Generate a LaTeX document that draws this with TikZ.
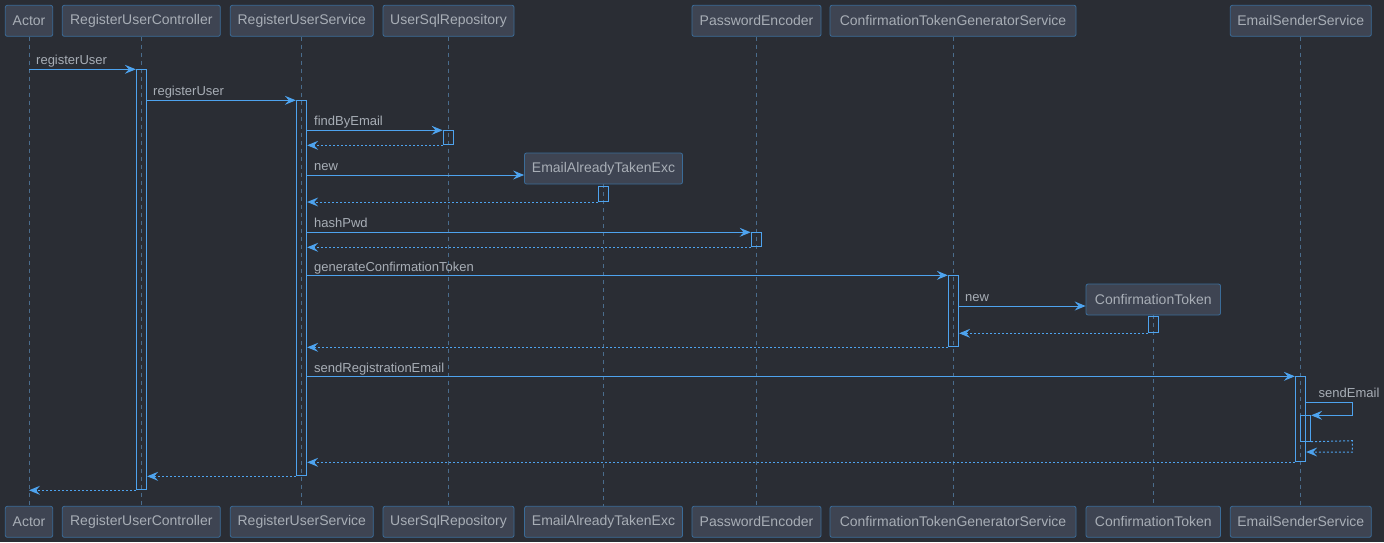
\documentclass[tikz,border=0pt]{standalone}
\usepackage{fontspec}
\setmainfont{Liberation Sans}
\usetikzlibrary{arrows.meta}
\definecolor{bg}{HTML}{2A2D34}
\definecolor{partfill}{HTML}{3E4452}
\definecolor{partline}{HTML}{3B6C98}
\definecolor{txt}{HTML}{A8AEB6}
\definecolor{flow}{HTML}{4EA3EE}
\definecolor{life}{HTML}{4A6C8C}
\begin{document}
\begin{tikzpicture}[x=1pt,y=-1pt,
  part/.style={draw=partline, fill=partfill, rounded corners=2pt, text=txt,
    font=\fontsize{14}{16}\selectfont, minimum height=31pt, inner sep=0pt, line width=0.8pt},
  lifeline/.style={draw=life, line width=0.8pt, dash pattern=on 4pt off 4pt},
  act/.style={draw=flow, line width=1pt, minimum width=10.3pt, inner sep=0pt, anchor=north},
  msg/.style={draw=flow, line width=1pt, -{Stealth[length=11pt,width=9pt,inset=4pt]}},
  ret/.style={msg, dash pattern=on 2pt off 2pt},
  lbl/.style={text=txt, font=\fontsize{13}{15}\selectfont, anchor=base west, inner sep=0pt}]
\useasboundingbox[fill=bg] (0,0) rectangle (1384,542);

% participants, top row
\node[part, minimum width=47.4pt]  (tActor) at (29,20.8)    {Actor};
\node[part, minimum width=158pt]   (tCtl)   at (141.3,20.8) {RegisterUserController};
\node[part, minimum width=143pt]   (tSvc)   at (301.8,20.8) {RegisterUserService};
\node[part, minimum width=131pt]   (tRepo)  at (448.5,20.8) {UserSqlRepository};
\node[part, minimum width=129pt]   (tEnc)   at (756.5,20.8) {PasswordEncoder};
\node[part, minimum width=246pt]   (tGen)   at (953,20.8)   {ConfirmationTokenGeneratorService};
\node[part, minimum width=141pt]   (tMail)  at (1300.8,20.8){EmailSenderService};
% participants created during the sequence
\node[part, minimum width=158pt]   (cExc)   at (603.5,168.5){EmailAlreadyTakenExc};
\node[part, minimum width=134.5pt] (cTok)   at (1153.3,299.5){ConfirmationToken};

% participants, bottom row
\node[part, minimum width=47.4pt]  (bActor) at (29,521.8)    {Actor};
\node[part, minimum width=158pt]   (bCtl)   at (141.3,521.8) {RegisterUserController};
\node[part, minimum width=143pt]   (bSvc)   at (301.8,521.8) {RegisterUserService};
\node[part, minimum width=131pt]   (bRepo)  at (448.5,521.8) {UserSqlRepository};
\node[part, minimum width=158pt]   (bExc)   at (603.5,521.8) {EmailAlreadyTakenExc};
\node[part, minimum width=129pt]   (bEnc)   at (756.5,521.8) {PasswordEncoder};
\node[part, minimum width=246pt]   (bGen)   at (953,521.8)   {ConfirmationTokenGeneratorService};
\node[part, minimum width=134.5pt] (bTok)   at (1153.3,521.8){ConfirmationToken};
\node[part, minimum width=141pt]   (bMail)  at (1300.8,521.8){EmailSenderService};

% lifelines
\draw[lifeline] (tActor) -- (bActor);
\draw[lifeline] (tCtl) -- (bCtl);
\draw[lifeline] (tSvc) -- (bSvc);
\draw[lifeline] (tRepo) -- (bRepo);
\draw[lifeline] (cExc) -- (bExc);
\draw[lifeline] (tEnc) -- (bEnc);
\draw[lifeline] (tGen) -- (bGen);
\draw[lifeline] (cTok) -- (bTok);
\draw[lifeline] (tMail) -- (bMail);

% activation bars
\node[act, minimum height=420pt] (aCtl)  at (141.5,69.3)  {};
\node[act, minimum height=375pt] (aSvc)  at (301.5,100.3) {};
\node[act, minimum height=14pt]  (aRepo) at (448.3,130.3) {};
\node[act, minimum height=15.5pt](aExc)  at (603.3,185.5) {};
\node[act, minimum height=14pt]  (aEnc)  at (756.3,232.3) {};
\node[act, minimum height=71pt]  (aGen)  at (953.5,275.3) {};
\node[act, minimum height=16.3pt](aTok)  at (1153.5,316)  {};
\node[act, minimum height=85pt]  (aMail) at (1300.5,376.3) {};
\node[act, minimum height=25.4pt](aMail2) at (1305.5,415.3) {};

% messages
\draw[msg] (tActor.south |- aCtl.north) -- (aCtl.north west);
\node[lbl] at (36,64.5) {registerUser};
\draw[msg] (aCtl.east |- aSvc.north) -- (aSvc.north west);
\node[lbl] at (153,95.5) {registerUser};
\draw[msg] (aSvc.east |- aRepo.north) -- (aRepo.north west);
\node[lbl] at (314,125.5) {findByEmail};
\draw[ret] (aRepo.south west) -- (aSvc.east |- aRepo.south);
\draw[msg] (aSvc.east |- 0,175) -- (cExc.west |- 0,175);
\node[lbl] at (314,170) {new};
\draw[ret] (aExc.south west) -- (aSvc.east |- aExc.south);
\draw[msg] (aSvc.east |- aEnc.north) -- (aEnc.north west);
\node[lbl] at (314,227.5) {hashPwd};
\draw[ret] (aEnc.south west) -- (aSvc.east |- aEnc.south);
\draw[msg] (aSvc.east |- aGen.north) -- (aGen.north west);
\node[lbl] at (314,271) {generateConfirmationToken};
\draw[msg] (aGen.east |- 0,306) -- (cTok.west |- 0,306);
\node[lbl] at (965,301) {new};
\draw[ret] (aTok.south west) -- (aGen.east |- aTok.south);
\draw[ret] (aGen.south west) -- (aSvc.east |- aGen.south);
\draw[msg] (aSvc.east |- aMail.north) -- (aMail.north west);
\node[lbl] at (314,372) {sendRegistrationEmail};
% self call on the mail sender
\coordinate (loopA) at (1352.3,402.7);
\coordinate (loopB) at (1352.3,440.7);
\draw[msg] (aMail.east |- loopA) -- (loopA) -- (loopA |- aMail2.north) -- (aMail2.north east);
\node[lbl] at (1318.5,397) {sendEmail};
\draw[ret] (aMail2.south east) -- (loopB) -- ++(0,11.3) -- (aMail.east |- 0,452);
\draw[ret] (aMail.south west) -- (aSvc.east |- aMail.south);
\draw[ret] (aSvc.south west) -- (aCtl.east |- aSvc.south);
\draw[ret] (aCtl.south west) -- (tActor.south |- aCtl.south);
\end{tikzpicture}
\end{document}
